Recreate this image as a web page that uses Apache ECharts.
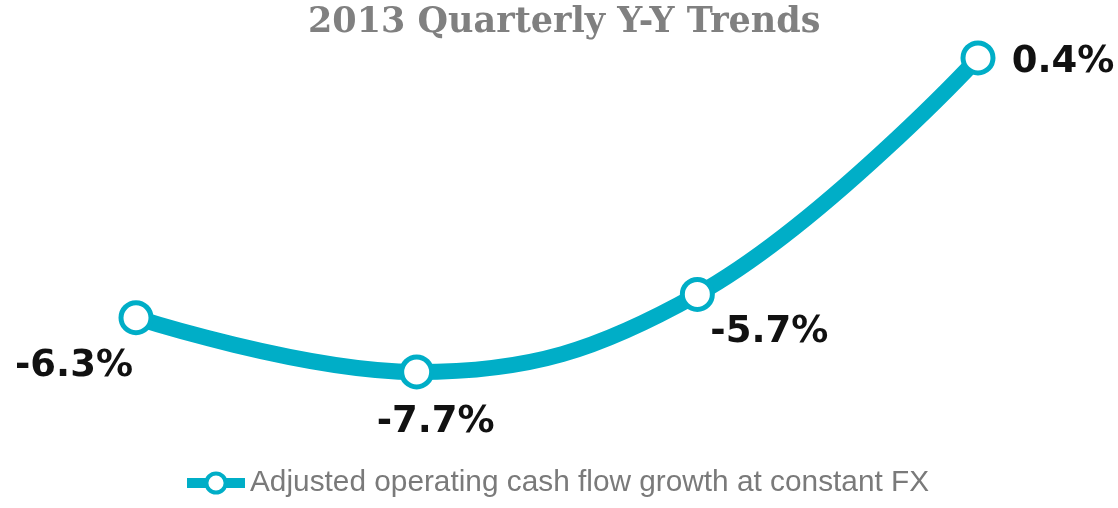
<!DOCTYPE html>
<html>
<head>
<meta charset="utf-8">
<script src="https://cdn.jsdelivr.net/npm/echarts@6/dist/echarts.min.js"></script>
<style>
  html, body { margin: 0; padding: 0; background: #fff; }
  #main { width: 1118px; height: 508px; }
</style>
</head>
<body>
<div id="main"></div>
<script>
// 季度数据
var quarters = ['Q1', 'Q2', 'Q3', 'Q4'];
var growth = [-6.3, -7.7, -5.7, 0.4];
var labelText = ['-6.3%', '-7.7%', '-5.7%', '0.4%'];
var seriesName = 'Adjusted operating cash flow growth at constant FX';

var labelOffsets = [[-62, 49], [19, 50], [72, 38], [85, 4]];
var color = '#00AEC7';

var chart = echarts.init(document.getElementById('main'));
var option = {
    title: {
        text: '2013 Quarterly Y-Y Trends',
        left: 303,
        top: 0,
        textStyle: {
            fontFamily: '"DejaVu Serif", serif',
            fontWeight: 'bold',
            fontSize: 35,
            color: '#808080'
        }
    },
    legend: {
        data: [seriesName],
        bottom: 5,
        left: 177,
        itemWidth: 58,
        itemHeight: 24,
        itemGap: 2,
        lineStyle: { width: 10 },
        itemStyle: { borderWidth: 4 },
        textStyle: {
            fontFamily: '"Liberation Sans", sans-serif',
            fontSize: 29.8,
            color: '#7a7a7a'
        }
    },
    grid: {
        left: 136,
        right: 140,
        top: 34.7,
        bottom: 85.6
    },
    xAxis: {
        type: 'category',
        data: quarters,
        boundaryGap: false,
        show: false
    },
    yAxis: {
        type: 'value',
        min: -9,
        max: 1,
        show: false
    },
    series: [{
        name: seriesName,
        type: 'line',
        smooth: 0.4,
        data: growth.map(function (v, i) {
            return {
                value: v,
                label: {
                    offset: labelOffsets[i],
                    formatter: labelText[i]
                }
            };
        }),
        lineStyle: { color: color, width: 16 },
        symbol: 'circle',
        symbolSize: 30,
        itemStyle: { color: '#fff', borderColor: color, borderWidth: 5 },
        label: {
            show: true,
            position: 'inside',
            align: 'center',
            verticalAlign: 'middle',
            fontFamily: '"DejaVu Sans", sans-serif',
            fontWeight: 'bold',
            fontSize: 37,
            color: '#111'
        },
        z: 2
    }]
};
chart.setOption(option);
</script>
</body>
</html>
